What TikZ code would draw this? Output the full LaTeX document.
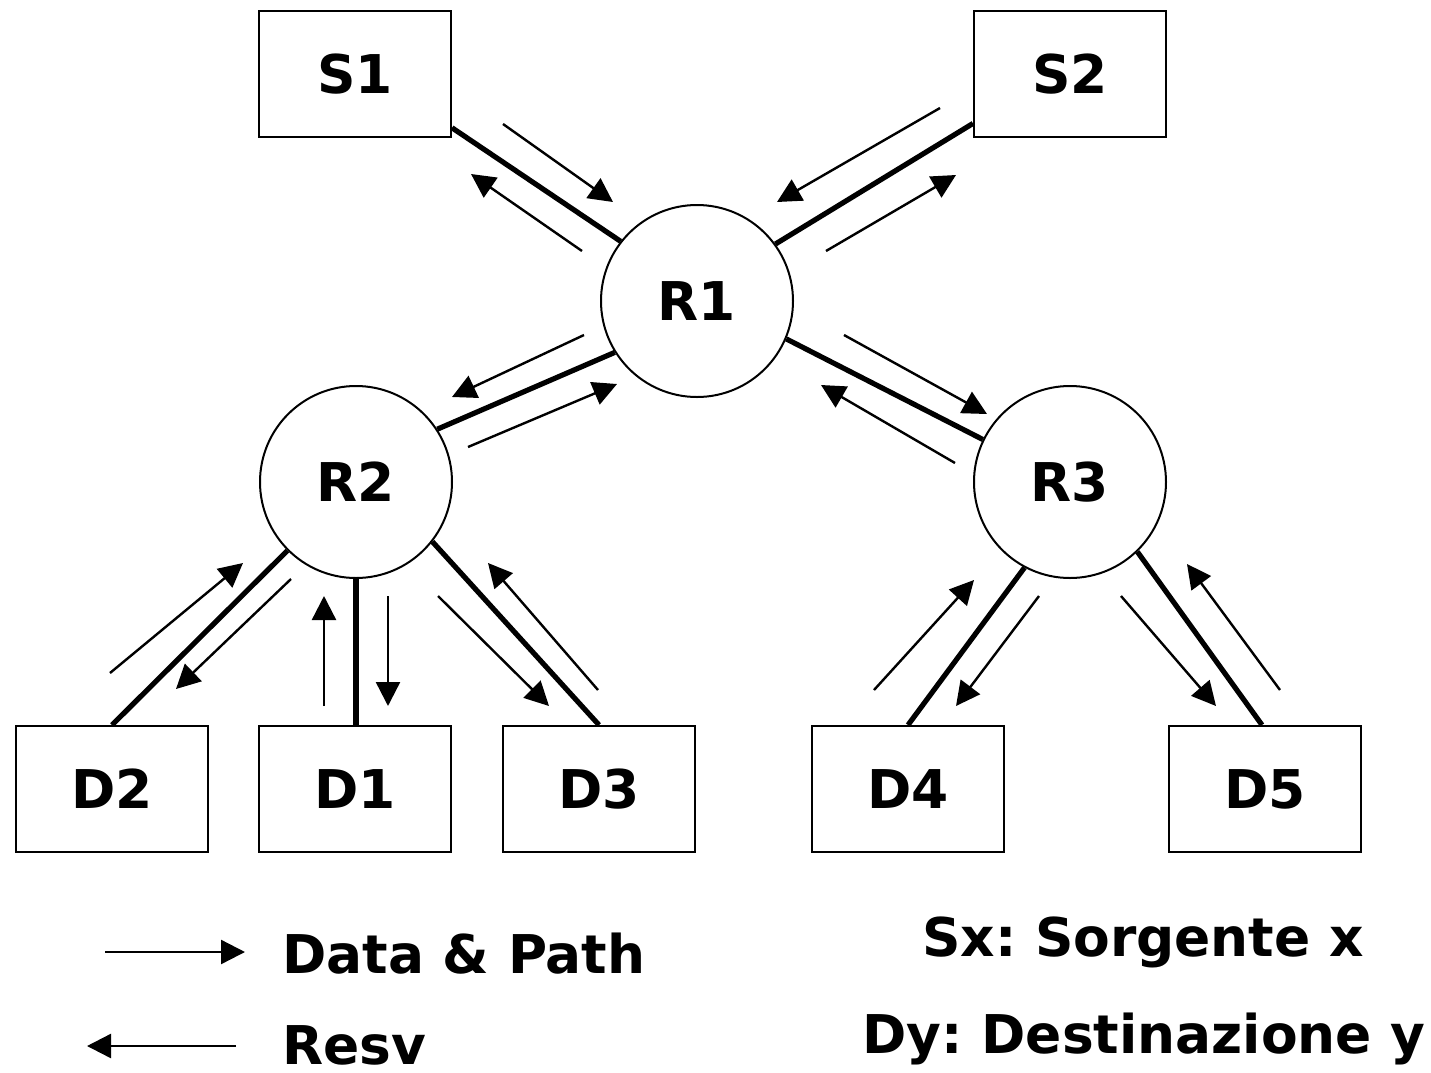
\documentclass[tikz,border=0pt]{standalone}
\usepackage{fontspec}
\setmainfont{DejaVu Sans}
\usetikzlibrary{arrows.meta}
\newcommand\labelfont{\fontsize{26.7pt}{32pt}\selectfont\bfseries\frenchspacing}
\begin{document}
\begin{tikzpicture}[x=0.5pt,y=-0.5pt,
  box/.style={draw, line width=1pt, minimum width=96pt, minimum height=63pt,
              inner sep=0pt, font=\labelfont},
  router/.style={draw, circle, line width=1pt, minimum size=96pt,
                 inner sep=0pt, font=\labelfont},
  link/.style={line width=2.6pt},
  flow/.style={line width=1.2pt, -{Triangle[length=12pt,width=12pt]}},
  legend/.style={inner sep=0pt, font=\labelfont},
]
\useasboundingbox (0,0) rectangle (1431,1072);

% sources, routers, destinations
\node[box] (S1) at (355,74) {S1};
\node[box] (S2) at (1070,74) {S2};
\node[router] (R1) at (697,301) {R1};
\node[router] (R2) at (356,482) {R2};
\node[router] (R3) at (1070,482) {R3};
\node[box] (D2) at (112,789) {D2};
\node[box] (D1) at (355,789) {D1};
\node[box] (D3) at (599,789) {D3};
\node[box] (D4) at (908,789) {D4};
\node[box] (D5) at (1265,789) {D5};

% physical links
\draw[link] (S1.-29) -- (R1.142.5);
\draw[link] (S2.207) -- (R1.36.6);
\draw[link] (R1.212) -- (R2.33.4);
\draw[link] (R1.-23.4) -- (R3.154.5);
\draw[link] (R2.225) -- (D2.north);
\draw[link] (R2.south) -- (R2.south |- D1.north);
\draw[link] (R2.-38) -- (D3.north);
\draw[link] (R3.242) -- (D4.north);
\draw[link] (R3.-46) -- ([xshift=-1.5pt]D5.north);

% end points of the data/path and resv arrows beside each link
\foreach \n/\x/\y in {
  a1/503/124, a2/613/202,   b1/582/251, b2/471/174,
  c1/940/108, c2/777/202,   d1/826/251, d2/956/175,
  e1/584/335, e2/452/397,   f1/468/447, f2/617/384,
  g1/844/335, g2/987/414,   h1/955/463, h2/821/385,
  i1/291/579, i2/176/689,   j1/110/673, j2/243/563,
  k1/388/596, k2/388/706,   l1/324/706, l2/324/596,
  m1/438/596, m2/549/706,   n1/598/690, n2/488/563,
  o1/1039/596, o2/956/706,  p1/874/690, p2/974/580,
  q1/1121/596, q2/1216/706, r1/1280/690, r2/1187/564}
  \coordinate (\n) at (\x,\y);

\foreach \s in {a,b,c,d,e,f,g,h,i,j,k,l,m,n,o,p,q,r}
  \draw[flow] (\s1) -- (\s2);

% legend
\coordinate (ld1) at (105,952);
\coordinate (ld2) at (245,952);
\coordinate (lr1) at (236,1046);
\coordinate (lr2) at (87,1046);
\draw[flow] (ld1) -- (ld2);
\draw[flow] (lr1) -- (lr2);
\node[legend, anchor=base west] (tdata) at (282,973) {Data \& Path};
\node[legend, anchor=base west] (tresv) at (282,1064) {Resv};
\node[legend, anchor=base] (tsx) at (1143,956) {Sx: Sorgente x};
\node[legend, anchor=base] (tdy) at (1144,1053) {Dy: Destinazione y};
\end{tikzpicture}
\end{document}
